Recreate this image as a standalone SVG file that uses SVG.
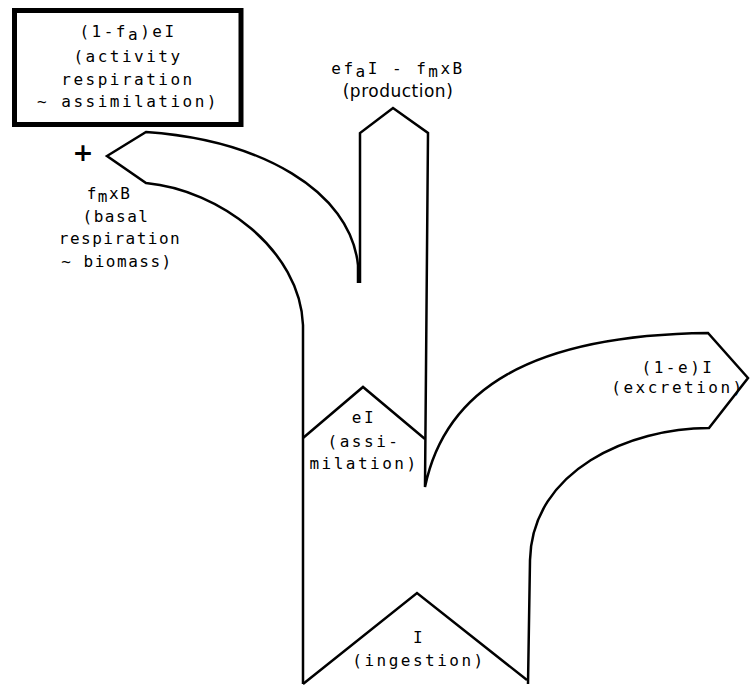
<svg xmlns="http://www.w3.org/2000/svg" width="751" height="686" viewBox="0 0 751 686">
<style>
.ln{fill:none;stroke:#000;stroke-width:2.5;stroke-linejoin:miter;stroke-linecap:butt}
.m{font-family:"DejaVu Sans Mono","Liberation Mono",monospace;font-size:16px;letter-spacing:2.5px;fill:#000;text-anchor:middle}
.b{letter-spacing:1.5px}
.s{font-family:"DejaVu Sans","Liberation Sans",sans-serif;font-size:17px;letter-spacing:0.5px;fill:#000;text-anchor:middle}
</style>
<rect width="751" height="686" fill="#fff"/>
<g id="connectors">
<path class="ln" d="M303,684 L303,325 C300,250 220,190 146,183 L107,156 L146,132 C260,140 350,190 358,265 L358,283"/>
<path class="ln" d="M360,283 L360,133 L393,108 L428,133 L425,487 C445,390 530,335 708,333 L748,378 L709,428 C630,428 532,470 530,560 L528,684"/>
</g>
<g id="ingestion">
<path class="ln" d="M303,684 L417,593 L527,680"/>
<text class="m" x="419" y="643">I</text>
<text class="m" x="419" y="666">(ingestion)</text>
</g>
<g id="assimilation">
<path class="ln" d="M303,438 L363,387 L425,439"/>
<text class="m" x="364" y="423">eI</text>
<text class="m" x="364" y="447">(assi-</text>
<text class="m" x="364" y="469">milation)</text>
</g>
<g id="excretion">
<text class="m" x="678" y="373">(1-e)I</text>
<text class="m" x="678" y="393">(excretion)</text>
</g>
<g id="production">
<text class="m" x="398" y="74">ef<tspan dy="3">a</tspan><tspan dy="-3">I - f</tspan><tspan dy="3">m</tspan><tspan dy="-3">xB</tspan></text>
<text class="s" x="398" y="97">(production)</text>
</g>
<g id="basal">
<text x="83" y="161" style="font-family:'DejaVu Sans',sans-serif;font-size:25px;font-weight:bold;text-anchor:middle">+</text>
<text class="m b" x="109" y="199">f<tspan dy="3">m</tspan><tspan dy="-3">xB</tspan></text>
<text class="m b" x="116" y="222">(basal</text>
<text class="m b" x="120" y="244">respiration</text>
<text class="m b" x="117" y="267">~ biomass)</text>
</g>
<g id="activity">
<rect x="14.5" y="10.5" width="226.5" height="114" fill="#fff" stroke="#000" stroke-width="5"/>
<text class="m" x="128" y="37">(1-f<tspan dy="3">a</tspan><tspan dy="-3">)eI</tspan></text>
<text class="m" x="128" y="62">(activity</text>
<text class="m" x="128" y="85">respiration</text>
<text class="m" x="128" y="107">~ assimilation)</text>
</g>
</svg>
